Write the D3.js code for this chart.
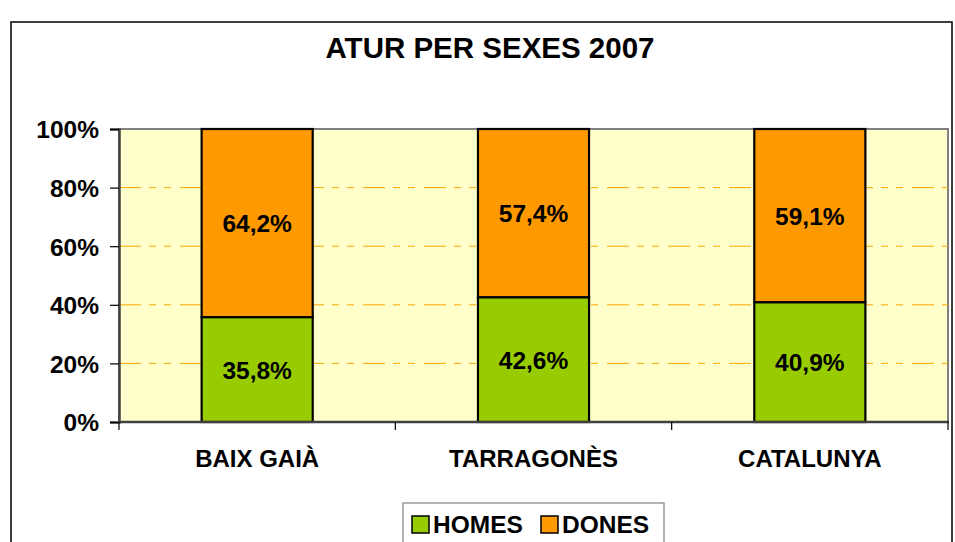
<!DOCTYPE html>
<html>
<head>
<meta charset="utf-8">
<script src="https://cdn.jsdelivr.net/npm/d3@7"></script>
<style>
  body { margin: 0; background: #fff; }
  text { font-family: "Liberation Sans", Arial, sans-serif; font-weight: bold; fill: #000; }
</style>
</head>
<body>
<svg id="chart" width="955" height="542"></svg>
<script>
(function (d3) {
    "use strict";

    /***** Données *****/
    const categories = ["BAIX GAIÀ", "TARRAGONÈS", "CATALUNYA"];
    const homes = [35.8, 42.6, 40.9];
    const dones = [64.2, 57.4, 59.1];
    const series = ["HOMES", "DONES"];
    const colors = ["#99CC00", "#FF9900"];
    const yTicks = [0, 20, 40, 60, 80, 100];

    /***** Configuration *****/
    const plot = { left: 119, right: 948, top: 129, bottom: 422 };

    var svg = d3.select("#chart");

    // cadre extérieur
    svg.append("rect")
        .attr("x", 11).attr("y", 22)
        .attr("width", 941).attr("height", 540)
        .attr("fill", "#fff")
        .attr("stroke", "#000")
        .attr("stroke-width", 1.5);

    // titre
    svg.append("text")
        .attr("x", 490).attr("y", 58)
        .attr("text-anchor", "middle")
        .style("font-size", "29.5px")
        .text("ATUR PER SEXES 2007");

    /***** Échelles *****/
    var x = d3.scaleBand()
        .domain(categories)
        .range([plot.left, plot.right])
        .paddingInner(0.598)
        .paddingOuter(0.299);

    var y = d3.scaleLinear().domain([0, 100]).range([plot.bottom, plot.top]);

    // fond de la zone de tracé
    svg.append("rect")
        .attr("x", plot.left).attr("y", plot.top)
        .attr("width", plot.right - plot.left)
        .attr("height", plot.bottom - plot.top)
        .attr("fill", "#FFFFCC")
        .attr("stroke", "#808080")
        .attr("stroke-width", 2);

    // quadrillage pointillé
    svg.append("g")
        .selectAll("line")
        .data(yTicks.filter(d => d > 0 && d < 100))
        .join("line")
        .attr("x1", plot.left).attr("x2", plot.right)
        .attr("y1", d => y(d)).attr("y2", d => y(d))
        .attr("stroke", "#FFA500")
        .attr("stroke-width", 1)
        .attr("stroke-dasharray", "22,8,7,8,7,9");

    /***** Barres empilées *****/
    var rows = categories.map((c, i) => ({ cat: c, HOMES: homes[i], DONES: dones[i] }));
    var stacked = d3.stack().keys(series)(rows);

    var layers = svg.append("g")
        .selectAll("g")
        .data(stacked)
        .join("g")
        .attr("fill", (d, i) => colors[i]);

    layers.selectAll("rect")
        .data(d => d)
        .join("rect")
        .attr("x", d => x(d.data.cat))
        .attr("width", x.bandwidth())
        .attr("y", d => y(d[1]))
        .attr("height", d => y(d[0]) - y(d[1]))
        .attr("stroke", "#000")
        .attr("stroke-width", 2.2);

    // étiquettes des barres
    layers.selectAll("text")
        .data(d => d)
        .join("text")
        .attr("x", d => x(d.data.cat) + x.bandwidth() / 2)
        .attr("y", d => (y(d[0]) + y(d[1])) / 2 + 9)
        .attr("text-anchor", "middle")
        .style("font-size", "24.5px")
        .text(d => d3.format(".1f")(d[1] - d[0]).replace(".", ",") + "%");

    /***** Axes *****/
    var yAxis = svg.append("g")
        .attr("transform", "translate(" + plot.left + ",0)")
        .call(d3.axisLeft(y).tickValues(yTicks).tickSize(9).tickPadding(11)
            .tickFormat(d => d + "%"));
    yAxis.select(".domain").attr("stroke", "#404040").attr("stroke-width", 2.5);
    yAxis.selectAll(".tick line").attr("stroke", "#000").attr("stroke-width", 1.2);
    yAxis.selectAll(".tick text")
        .style("font-size", "24.5px")
        .style("font-family", "'Liberation Sans', Arial, sans-serif")
        .attr("dy", "0.36em");

    // axe des x: traits aux limites des catégories
    var xAxis = svg.append("g")
        .attr("transform", "translate(0," + plot.bottom + ")");
    xAxis.append("line")
        .attr("x1", plot.left - 1).attr("x2", plot.right + 1)
        .attr("stroke", "#404040").attr("stroke-width", 2.5);
    var bounds = categories.map(c => x(c) - x.step() * x.paddingOuter()).concat([plot.right]);
    xAxis.selectAll("line.tk")
        .data(bounds)
        .join("line")
        .attr("class", "tk")
        .attr("x1", d => d).attr("x2", d => d)
        .attr("y1", 0).attr("y2", 8)
        .attr("stroke", "#000").attr("stroke-width", 1.2);
    xAxis.selectAll("text")
        .data(categories)
        .join("text")
        .attr("x", d => x(d) + x.bandwidth() / 2)
        .attr("y", 45)
        .attr("text-anchor", "middle")
        .style("font-size", "24px")
        .text(d => d);

    /***** Légende *****/
    var legend = svg.append("g");
    legend.append("rect")
        .attr("x", 403).attr("y", 503)
        .attr("width", 261).attr("height", 60)
        .attr("fill", "#fff")
        .attr("stroke", "#808080")
        .attr("stroke-width", 1.2);

    var legendX = [412, 541];
    var items = legend.selectAll("g.item")
        .data(series)
        .join("g")
        .attr("class", "item")
        .attr("transform", (d, i) => "translate(" + legendX[i] + ",516)");
    items.append("rect")
        .attr("width", 17).attr("height", 17)
        .attr("fill", (d, i) => colors[i])
        .attr("stroke", "#000")
        .attr("stroke-width", 1.5);
    items.append("text")
        .attr("x", 21).attr("y", 17)
        .style("font-size", "24.5px")
        .text(d => d);

})(d3);
</script>
</body>
</html>
